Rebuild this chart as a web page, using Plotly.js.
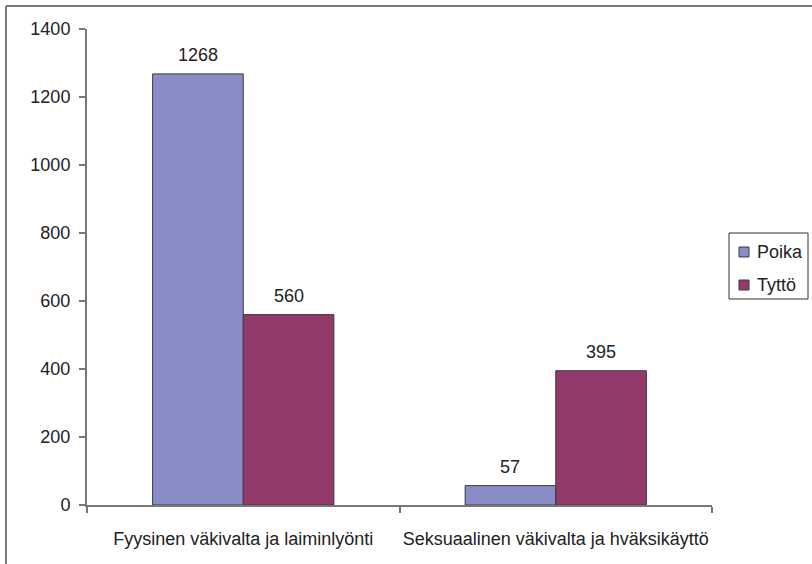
<!DOCTYPE html>
<html>
<head>
<meta charset="utf-8">
<script src="https://cdn.plot.ly/plotly-3.0.1.min.js"></script>
<style>
html,body{margin:0;padding:0;background:#fff;}
#chart{width:812px;height:564px;}
</style>
</head>
<body>
<div id="chart"></div>
<script>
const categories = ["Fyysinen väkivalta ja laiminlyönti", "Seksuaalinen väkivalta ja hväksikäyttö"];
const seriesNames = ["Poika", "Tyttö"];
const poika = [1268, 57];
const tytto = [560, 395];
const yTicks = [0, 200, 400, 600, 800, 1000, 1200, 1400];

const colors = ["#8A8CC6", "#943A6A"];
const FONT = "Arial, 'Liberation Sans', sans-serif";
const W = 812, H = 564;
const M = {l: 87, r: 100, t: 29, b: 59, autoexpand: false};
const PW = W - M.l - M.r, PH = H - M.t - M.b;

const values = [poika, tytto];
const traces = values.map((v, i) => ({
  type: "bar",
  name: seriesNames[i],
  x: categories,
  y: v,
  marker: {color: colors[i], line: {color: "#3a3a4a", width: 1}},
  hoverinfo: "skip",
  showlegend: false
}));

const px = x => (x - M.l) / PW;
const py = y => (H - M.b - y) / PH;

const barPx = PW / categories.length * (1 - 0.42) / 2;
const annotations = [];
values.forEach((v, i) => {
  v.forEach((val, j) => {
    annotations.push({
      x: categories[j], y: val, xref: "x", yref: "y",
      text: String(val), showarrow: false,
      xshift: (i === 0 ? -1 : 1) * barPx / 2,
      yanchor: "bottom", yshift: 7,
      font: {family: FONT, size: 18, color: "#222"}
    });
  });
});

const shapes = [
  {type: "line", xref: "paper", yref: "paper", x0: px(6), x1: px(812), y0: py(6), y1: py(6), line: {color: "#777", width: 2}},
  {type: "line", xref: "paper", yref: "paper", x0: px(6), x1: px(6), y0: py(6), y1: py(564), line: {color: "#777", width: 2}},
  {type: "rect", xref: "paper", yref: "paper", x0: px(729), x1: px(808), y0: py(233), y1: py(299), line: {color: "#333", width: 1}, fillcolor: "#fff"}
];
seriesNames.forEach((name, i) => {
  const cy = 252 + i * 33;
  shapes.push({type: "rect", xref: "paper", yref: "paper", x0: px(739), x1: px(749), y0: py(cy - 5), y1: py(cy + 5),
    line: {color: "#3a3a4a", width: 1}, fillcolor: colors[i]});
  annotations.push({xref: "paper", yref: "paper", x: px(755), y: py(cy), xanchor: "left", yanchor: "middle",
    text: name, showarrow: false, font: {family: FONT, size: 18, color: "#222"}});
});

const layout = {
  width: W, height: H,
  margin: M,
  paper_bgcolor: "#fff", plot_bgcolor: "#fff",
  barmode: "group",
  bargap: 0.42, bargroupgap: 0,
  font: {family: FONT, size: 18, color: "#222"},
  showlegend: false,
  xaxis: {
    type: "category",
    showline: true, linecolor: "#777", linewidth: 2,
    ticks: "outside", tickson: "boundaries", ticklen: 6, tickcolor: "#777", tickwidth: 2,
    ticklabelstandoff: 16, tickangle: 0,
    tickfont: {family: FONT, size: 18, color: "#222"},
    showgrid: false, zeroline: false
  },
  yaxis: {
    range: [0, 1400],
    tickvals: yTicks,
    showline: true, linecolor: "#777", linewidth: 2,
    ticks: "outside", ticklen: 6, tickcolor: "#777", tickwidth: 2,
    ticklabelstandoff: 5,
    tickfont: {family: FONT, size: 18, color: "#222"},
    showgrid: false, zeroline: false
  },
  annotations: annotations,
  shapes: shapes
};

Plotly.newPlot("chart", traces, layout, {displayModeBar: false, staticPlot: true});
</script>
</body>
</html>
